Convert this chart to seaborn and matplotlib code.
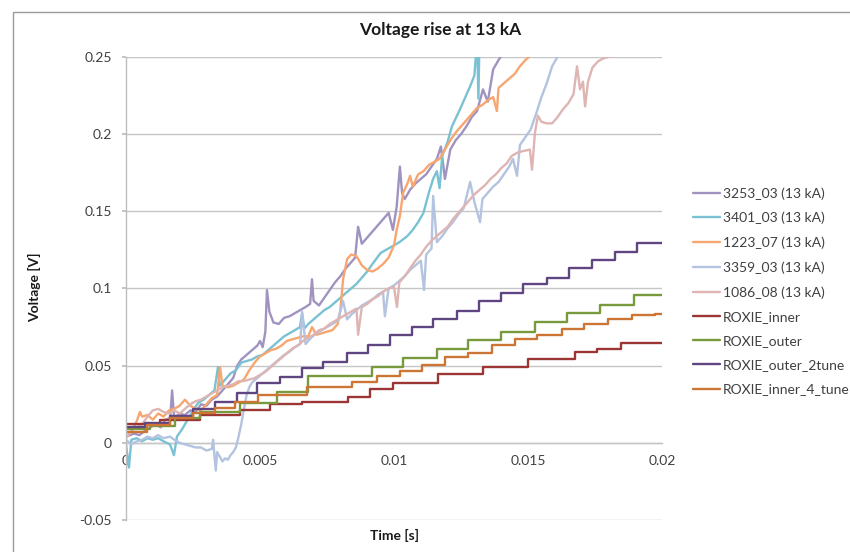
import numpy as np
import pandas as pd
import matplotlib
matplotlib.use("Agg")
import matplotlib.pyplot as plt
from matplotlib.patches import Rectangle
import seaborn as sns

# ---------------- data ----------------
x_3253 = [0, 0.0003, 0.0005, 0.0008, 0.0011, 0.0013, 0.00146, 0.00165, 0.00172, 0.0018,
          0.0020, 0.0022, 0.0024, 0.0026, 0.0028, 0.0030, 0.0032, 0.0034, 0.0036, 0.0038,
          0.0040, 0.00415, 0.0043, 0.0045, 0.0047, 0.0049, 0.0050, 0.0051, 0.0052, 0.00526,
          0.00535, 0.0055, 0.0057, 0.0059, 0.0061, 0.0063, 0.0065, 0.0067, 0.00687, 0.00694,
          0.0070, 0.0072, 0.0074, 0.0076, 0.0078, 0.0080, 0.0082, 0.0084, 0.00855, 0.00866,
          0.0088, 0.0090, 0.0092, 0.0094, 0.0096, 0.0098, 0.00996, 0.0101, 0.01022, 0.0103,
          0.0104, 0.0106, 0.0108, 0.0110, 0.0112, 0.0114, 0.0116, 0.01175, 0.0119, 0.0121,
          0.0123, 0.0125, 0.0127, 0.0129, 0.0131, 0.01332, 0.0135, 0.0137, 0.0139, 0.0142]
y_3253 = [0.004, 0.006, 0.005, 0.009, 0.012, 0.010, 0.015, 0.016, 0.034, 0.016,
          0.019, 0.018, 0.021, 0.020, 0.025, 0.024, 0.028, 0.030, 0.034, 0.038,
          0.042, 0.050, 0.054, 0.057, 0.060, 0.063, 0.066, 0.062, 0.072, 0.099,
          0.085, 0.078, 0.077, 0.081, 0.082, 0.084, 0.086, 0.088, 0.090, 0.106,
          0.092, 0.089, 0.094, 0.099, 0.104, 0.108, 0.113, 0.117, 0.120, 0.140,
          0.129, 0.133, 0.137, 0.141, 0.145, 0.149, 0.138, 0.153, 0.179, 0.162,
          0.158, 0.164, 0.168, 0.171, 0.174, 0.179, 0.184, 0.192, 0.171, 0.190,
          0.196, 0.200, 0.205, 0.211, 0.215, 0.229, 0.221, 0.242, 0.248, 0.256]

x_3401 = [0, 0.00011, 0.0002, 0.0004, 0.0006, 0.0008, 0.0010, 0.0012, 0.0014, 0.00164,
          0.00179, 0.0019, 0.0021, 0.0023, 0.0025, 0.0027, 0.0029, 0.0031, 0.0033, 0.00343,
          0.0035, 0.0037, 0.0039, 0.0041, 0.0043, 0.0045, 0.0047, 0.0049, 0.0051, 0.0053,
          0.0055, 0.0057, 0.0059, 0.0061, 0.0063, 0.00649, 0.00657, 0.00665, 0.0068, 0.0070,
          0.0072, 0.0074, 0.0076, 0.0078, 0.0080, 0.0082, 0.0084, 0.0086, 0.0088, 0.0090,
          0.0092, 0.0095, 0.0098, 0.0100, 0.0102, 0.0105, 0.0107, 0.0109, 0.0111, 0.0113,
          0.01146, 0.0116, 0.0117, 0.0118, 0.0120, 0.01216, 0.01246, 0.01284, 0.0130, 0.0131,
          0.01315, 0.0132]
y_3401 = [-0.001, -0.016, 0.002, 0.003, 0.001, 0.003, 0.002, 0.003, 0.001, -0.001,
          -0.008, 0.004, 0.009, 0.015, 0.021, 0.026, 0.028, 0.031, 0.034, 0.049,
          0.037, 0.041, 0.045, 0.047, 0.052, 0.053, 0.054, 0.056, 0.057, 0.060,
          0.063, 0.066, 0.069, 0.071, 0.073, 0.075, 0.084, 0.074, 0.077, 0.080,
          0.083, 0.086, 0.088, 0.091, 0.094, 0.097, 0.100, 0.103, 0.107, 0.111,
          0.116, 0.123, 0.126, 0.128, 0.130, 0.134, 0.138, 0.143, 0.149, 0.162,
          0.171, 0.176, 0.165, 0.186, 0.195, 0.205, 0.216, 0.231, 0.238, 0.262,
          0.223, 0.272]

x_1223 = [0, 0.0002, 0.0004, 0.00052, 0.0006, 0.0008, 0.0010, 0.0012, 0.0014, 0.0016,
          0.0018, 0.0020, 0.0022, 0.0024, 0.0026, 0.0028, 0.0030, 0.0032, 0.0034, 0.00351,
          0.0036, 0.0038, 0.0040, 0.0042, 0.0044, 0.0046, 0.0048, 0.0050, 0.0052, 0.0054,
          0.0056, 0.0058, 0.0060, 0.0062, 0.0064, 0.0066, 0.0068, 0.00694, 0.0071, 0.0073,
          0.0075, 0.0077, 0.0079, 0.0080, 0.0081, 0.00825, 0.0084, 0.0086, 0.0088, 0.0090,
          0.0092, 0.0094, 0.0096, 0.0098, 0.0100, 0.0101, 0.01022, 0.01034, 0.0105, 0.0106,
          0.0107, 0.0109, 0.0111, 0.0113, 0.0115, 0.0117, 0.0119, 0.0121, 0.0123, 0.0125,
          0.0127, 0.0129, 0.0131, 0.0133, 0.0135, 0.0137, 0.01384, 0.0139, 0.0141, 0.0143,
          0.0145, 0.0147, 0.0149, 0.0151, 0.0154]
y_1223 = [0.004, 0.007, 0.014, 0.020, 0.017, 0.018, 0.015, 0.019, 0.017, 0.021,
          0.022, 0.024, 0.028, 0.024, 0.022, 0.021, 0.025, 0.029, 0.031, 0.049,
          0.037, 0.036, 0.037, 0.039, 0.041, 0.047, 0.052, 0.056, 0.058, 0.060,
          0.061, 0.063, 0.066, 0.067, 0.068, 0.069, 0.069, 0.075, 0.070, 0.071,
          0.072, 0.073, 0.077, 0.086, 0.106, 0.119, 0.122, 0.121, 0.115, 0.112,
          0.111, 0.113, 0.116, 0.120, 0.128, 0.138, 0.147, 0.162, 0.168, 0.173,
          0.166, 0.174, 0.176, 0.180, 0.182, 0.184, 0.190, 0.196, 0.201, 0.205,
          0.209, 0.213, 0.217, 0.219, 0.222, 0.224, 0.215, 0.230, 0.233, 0.236,
          0.239, 0.244, 0.248, 0.251, 0.256]

x_3359 = [0, 0.0002, 0.0004, 0.0006, 0.0008, 0.0010, 0.0012, 0.0014, 0.00164, 0.0018,
          0.0020, 0.0022, 0.0024, 0.0026, 0.0028, 0.0030, 0.0032, 0.00325, 0.0033, 0.00335,
          0.0034, 0.0035, 0.0036, 0.0037, 0.0038, 0.0039, 0.0040, 0.0041, 0.0042, 0.0043,
          0.0044, 0.0045, 0.0046, 0.0047, 0.0049, 0.0051, 0.0053, 0.0055, 0.0057, 0.0059,
          0.0061, 0.0063, 0.0065, 0.00657, 0.0067, 0.0069, 0.0071, 0.0073, 0.0075, 0.0077,
          0.0079, 0.0081, 0.00825, 0.0084, 0.0086, 0.0088, 0.0090, 0.0092, 0.0094, 0.00959,
          0.00966, 0.0098, 0.0100, 0.0102, 0.0104, 0.0106, 0.0108, 0.0110, 0.01112, 0.0112,
          0.0114, 0.01146, 0.0116, 0.0118, 0.0120, 0.0122, 0.0124, 0.0126, 0.01284, 0.0130,
          0.01321, 0.0133, 0.0135, 0.0137, 0.0139, 0.0141, 0.0143, 0.01444, 0.01459, 0.0147,
          0.0149, 0.0151, 0.0153, 0.0155, 0.0157, 0.0159, 0.0161, 0.0163]
y_3359 = [0.002, -0.001, 0.001, 0.002, 0.004, 0.003, 0.005, 0.003, 0.004, 0.002,
          0.000, -0.001, -0.002, -0.003, -0.003, -0.005, -0.004, 0.002, -0.008, -0.018,
          -0.006, -0.009, -0.012, -0.010, -0.011, -0.008, -0.006, -0.003, 0.004, 0.012,
          0.022, 0.031, 0.036, 0.039, 0.042, 0.045, 0.048, 0.051, 0.054, 0.057,
          0.059, 0.062, 0.064, 0.085, 0.064, 0.068, 0.071, 0.073, 0.075, 0.077,
          0.079, 0.092, 0.080, 0.083, 0.086, 0.089, 0.091, 0.093, 0.096, 0.098,
          0.082, 0.100, 0.102, 0.105, 0.108, 0.112, 0.115, 0.118, 0.099, 0.122,
          0.126, 0.160, 0.130, 0.134, 0.139, 0.143, 0.148, 0.152, 0.169, 0.156,
          0.143, 0.158, 0.162, 0.166, 0.169, 0.174, 0.179, 0.184, 0.173, 0.193,
          0.198, 0.203, 0.213, 0.224, 0.233, 0.244, 0.250, 0.258]

x_1086 = [0, 0.0002, 0.0004, 0.0006, 0.0008, 0.0010, 0.0012, 0.0014, 0.0016, 0.0018,
          0.0020, 0.0022, 0.0024, 0.0026, 0.0028, 0.0030, 0.0032, 0.0034, 0.0036, 0.0038,
          0.0040, 0.0042, 0.0044, 0.0046, 0.0048, 0.0050, 0.0052, 0.0054, 0.0056, 0.0058,
          0.0060, 0.0062, 0.0064, 0.0066, 0.0068, 0.0070, 0.0072, 0.0074, 0.0076, 0.0078,
          0.0080, 0.0082, 0.0084, 0.0086, 0.00866, 0.0088, 0.0090, 0.0092, 0.0094, 0.0096,
          0.0098, 0.0100, 0.01011, 0.0102, 0.0104, 0.0106, 0.0108, 0.0110, 0.0112, 0.0114,
          0.0116, 0.0118, 0.0120, 0.0122, 0.0124, 0.0126, 0.0128, 0.0130, 0.0132, 0.0134,
          0.0136, 0.0138, 0.0140, 0.0142, 0.0144, 0.0146, 0.0148, 0.01507, 0.01515, 0.01526,
          0.01537, 0.0155, 0.0157, 0.0159, 0.0161, 0.0163, 0.0165, 0.0167, 0.01683, 0.01694,
          0.01705, 0.01713, 0.01724, 0.0174, 0.0176, 0.0178, 0.0181, 0.0183]
y_1086 = [0.003, 0.008, 0.010, 0.012, 0.017, 0.021, 0.022, 0.020, 0.019, 0.021,
          0.019, 0.022, 0.025, 0.027, 0.028, 0.030, 0.032, 0.034, 0.036, 0.037,
          0.038, 0.040, 0.040, 0.041, 0.042, 0.044, 0.046, 0.049, 0.052, 0.055,
          0.058, 0.061, 0.063, 0.066, 0.068, 0.070, 0.073, 0.074, 0.077, 0.079,
          0.081, 0.083, 0.085, 0.087, 0.070, 0.088, 0.090, 0.093, 0.095, 0.098,
          0.100, 0.101, 0.088, 0.104, 0.108, 0.113, 0.118, 0.122, 0.127, 0.131,
          0.134, 0.137, 0.140, 0.145, 0.149, 0.153, 0.157, 0.161, 0.164, 0.167,
          0.171, 0.174, 0.178, 0.181, 0.186, 0.188, 0.189, 0.190, 0.177, 0.201,
          0.212, 0.208, 0.207, 0.207, 0.211, 0.216, 0.220, 0.226, 0.244, 0.229,
          0.234, 0.218, 0.234, 0.243, 0.247, 0.249, 0.2506, 0.256]

x_inner = [0, 0.00127, 0.00276, 0.00425, 0.00537, 0.00657, 0.00828, 0.00910, 0.00996, 0.01164,
           0.01332, 0.01500, 0.01675, 0.01757, 0.01847, 0.02]
y_inner = [0.0123, 0.0150, 0.0180, 0.0215, 0.0250, 0.0265, 0.0300, 0.0350, 0.0390, 0.0448,
           0.0494, 0.0545, 0.0591, 0.0610, 0.0649, 0.0649]

x_outer = [0, 0.0009, 0.00183, 0.00276, 0.00425, 0.00563, 0.00679, 0.00918, 0.01034, 0.0116,
           0.01276, 0.01399, 0.01526, 0.01645, 0.01769, 0.01895, 0.02]
y_outer = [0.0090, 0.0110, 0.0160, 0.0200, 0.0260, 0.0330, 0.0435, 0.0494, 0.0550, 0.0610,
           0.0669, 0.0721, 0.0786, 0.0844, 0.0896, 0.0955, 0.0955]

x_outer2 = [0, 0.00071, 0.00164, 0.0025, 0.00332, 0.00414, 0.00489, 0.00575, 0.00657, 0.00735,
            0.00825, 0.00903, 0.00985, 0.01067, 0.01145, 0.01235, 0.01317, 0.01399, 0.01481, 0.01571,
            0.01653, 0.01739, 0.01824, 0.01907, 0.02]
y_outer2 = [0.0100, 0.0130, 0.0175, 0.0221, 0.0266, 0.0325, 0.0390, 0.0429, 0.0487, 0.0526,
            0.0584, 0.0636, 0.0701, 0.0753, 0.0805, 0.0851, 0.0916, 0.0974, 0.1026, 0.1071,
            0.1136, 0.1182, 0.1234, 0.1292, 0.1292]

x_inner4 = [0, 0.00078, 0.00164, 0.0025, 0.00332, 0.00407, 0.00493, 0.00675, 0.00843, 0.00937,
            0.01022, 0.01104, 0.01190, 0.01276, 0.01366, 0.01451, 0.01533, 0.01627, 0.01709, 0.01799,
            0.01888, 0.01973, 0.02]
y_inner4 = [0.0071, 0.0117, 0.0162, 0.0195, 0.0227, 0.0266, 0.0310, 0.0364, 0.0396, 0.0435,
            0.0468, 0.0507, 0.0558, 0.0584, 0.0636, 0.0675, 0.0701, 0.0740, 0.0773, 0.0805,
            0.0831, 0.0835, 0.0835]

series = [
    ("3253_03 (13 kA)", x_3253, y_3253, "#A193C0", None),
    ("3401_03 (13 kA)", x_3401, y_3401, "#7AC2D3", None),
    ("1223_07 (13 kA)", x_1223, y_1223, "#F8A66F", None),
    ("3359_03 (13 kA)", x_3359, y_3359, "#B3C3E0", None),
    ("1086_08 (13 kA)", x_1086, y_1086, "#DEB5B3", None),
    ("ROXIE_inner", x_inner, y_inner, "#9C3634", "steps-post"),
    ("ROXIE_outer", x_outer, y_outer, "#789A3C", "steps-post"),
    ("ROXIE_outer_2tune", x_outer2, y_outer2, "#5F4680", "steps-post"),
    ("ROXIE_inner_4_tune", x_inner4, y_inner4, "#CC7535", "steps-post"),
]

# ---------------- figure ----------------
sns.set_theme(style="white")
plt.rcParams["font.family"] = ["Lato", "DejaVu Sans"]

W, H = 850, 552
fig = plt.figure(figsize=(8.5, 5.52), dpi=100)
ax = fig.add_axes([126 / W, 1 - 520 / H, (662 - 126) / W, (520 - 57) / H])

for name, xs, ys, col, ds in series:
    df = pd.DataFrame({"t": xs, "v": ys})
    kw = {}
    if ds:
        kw["drawstyle"] = ds
    sns.lineplot(data=df, x="t", y="v", ax=ax, color=col, linewidth=1.7,
                 estimator=None, sort=False, label=name, **kw)

h, l = ax.get_legend_handles_labels()
ax.get_legend().remove()

ax.set_xlim(0, 0.02)
ax.set_ylim(-0.05, 0.25)
yt = [-0.05, 0, 0.05, 0.1, 0.15, 0.2, 0.25]
ax.set_yticks(yt)
ax.set_yticklabels(["-0.05", "0", "0.05", "0.1", "0.15", "0.2", "0.25"])
xt = [0, 0.005, 0.01, 0.015, 0.02]
ax.set_xticks(xt)
ax.set_xticklabels(["0", "0.005", "0.01", "0.015", "0.02"])
ax.set_xlabel("")
ax.set_ylabel("")

ax.grid(axis="y", color="#C6C6C6", linewidth=1.0)
ax.grid(axis="x", visible=False)
for s in ["top", "right"]:
    ax.spines[s].set_visible(False)
ax.spines["left"].set_color("#BDBDBD")
ax.spines["left"].set_linewidth(1.0)
ax.spines["bottom"].set_position(("data", 0))
ax.spines["bottom"].set_color("#BDBDBD")
ax.spines["bottom"].set_linewidth(1.0)
ax.spines["bottom"].set_zorder(0.5)
ax.tick_params(axis="y", length=3, color="#BDBDBD", pad=7, labelsize=10, labelcolor="#404040", left=True)
ax.tick_params(axis="x", length=0, pad=9, labelsize=10, labelcolor="#404040")

fig.text(440 / W, 1 - 30 / H, "Voltage rise at 13 kA", ha="center", va="center",
         fontsize=12.5, fontweight="bold", color="#1a1a1a")
fig.text(35 / W, 1 - 287 / H, "Voltage [V]", ha="center", va="center", rotation=90,
         fontsize=10, fontweight="bold", color="#1a1a1a")
fig.text(395 / W, 1 - 535 / H, "Time [s]", ha="center", va="center",
         fontsize=10, fontweight="bold", color="#1a1a1a")

fig.legend(h, l, loc="upper left", bbox_to_anchor=(693 / W, 1 - 187 / H),
           frameon=False, fontsize=10, handlelength=1.95, handletextpad=0.2,
           labelspacing=0.88, borderpad=0, borderaxespad=0, labelcolor="#404040")

fig.add_artist(Rectangle((13 / W, -0.2), 1.5, 1.2 - 12 / H, transform=fig.transFigure,
                         fill=False, edgecolor="#9A9A9A", linewidth=1.0))

fig.savefig("out.png", dpi=100)
